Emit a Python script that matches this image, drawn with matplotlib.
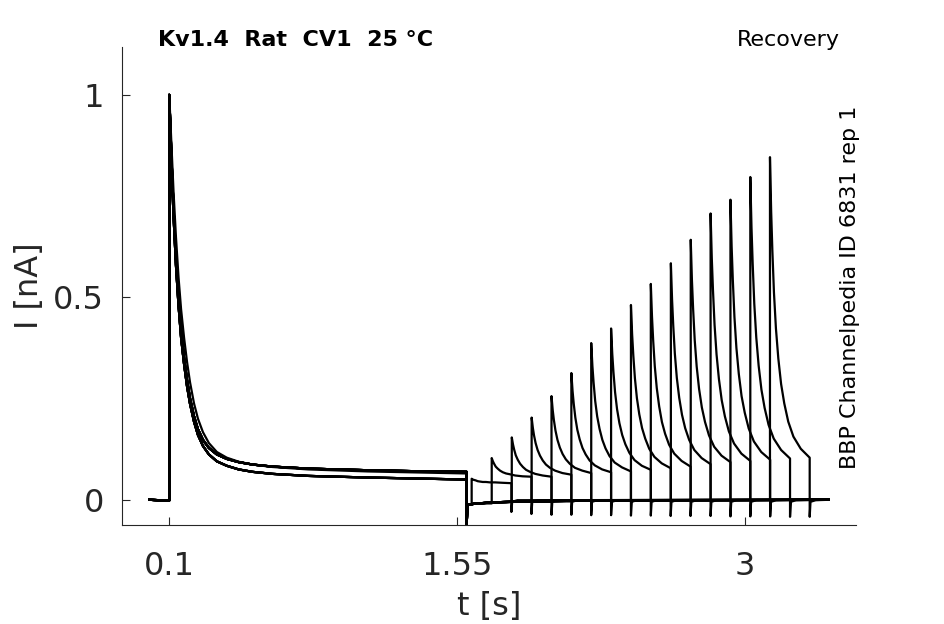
import matplotlib
matplotlib.use("Agg")
import matplotlib.pyplot as plt

# ---------------- data ----------------
# prepulse (shared part of every sweep), time in s, current in nA
pre_t = [0.0, 0.1, 0.1, 0.104, 0.112, 0.122, 0.134, 0.147, 0.16, 0.175, 0.19,
         0.205, 0.225, 0.245, 0.27, 0.3, 0.34, 0.39, 0.45, 0.52, 0.62, 0.8,
         1.1, 1.4, 1.598]
pre_I_upper = [0.0, -0.002, 1.0, 0.95, 0.84, 0.72, 0.60, 0.50, 0.42, 0.35, 0.295,
               0.25, 0.206, 0.174, 0.148, 0.128, 0.112, 0.101, 0.093, 0.087,
               0.082, 0.077, 0.073, 0.070, 0.069]
pre_I_lower = [0.0, -0.002, 0.99, 0.94, 0.82, 0.70, 0.58, 0.48, 0.40, 0.335, 0.28,
               0.237, 0.193, 0.16, 0.133, 0.112, 0.095, 0.084, 0.075, 0.069,
               0.064, 0.059, 0.055, 0.052, 0.050]
pre_I_slow = [0.0, -0.002, 1.0, 0.96, 0.87, 0.76, 0.65, 0.55, 0.47, 0.40, 0.34,
              0.29, 0.238, 0.20, 0.167, 0.14, 0.118, 0.104, 0.094, 0.087,
              0.081, 0.075, 0.070, 0.067, 0.065]
pre_variant = [0, 1, 0, 1, 0, 0, 1, 0, 1, 0, 2, 0, 1, 0, 1, 0]

# recovery interval baseline after the prepulse
rec_t = [1.598, 1.601, 1.604, 1.65, 1.75, 1.9, 2.2, 2.6]
rec_I = [-0.062, -0.02, -0.012, -0.009, -0.006, -0.004, -0.002, -0.001]

# test pulses
test_onsets = [1.623, 1.724, 1.825, 1.925, 2.025, 2.125, 2.225, 2.325,
               2.425, 2.525, 2.626, 2.726, 2.826, 2.926, 3.026, 3.125]
test_dt = [0.0, 0.006, 0.012, 0.02, 0.03, 0.042, 0.056, 0.072, 0.092, 0.118,
           0.155, 0.2]
test_I = [
    [0.052, 0.050, 0.049, 0.048, 0.046, 0.045, 0.044, 0.044, 0.043, 0.043, 0.042, 0.041],
    [0.103, 0.095, 0.089, 0.082, 0.077, 0.072, 0.068, 0.065, 0.063, 0.060, 0.058, 0.057],
    [0.154, 0.137, 0.124, 0.110, 0.099, 0.089, 0.081, 0.074, 0.069, 0.064, 0.060, 0.057],
    [0.203, 0.178, 0.159, 0.140, 0.123, 0.109, 0.097, 0.087, 0.079, 0.072, 0.066, 0.062],
    [0.256, 0.222, 0.197, 0.171, 0.148, 0.129, 0.113, 0.100, 0.089, 0.079, 0.072, 0.066],
    [0.313, 0.269, 0.237, 0.203, 0.173, 0.149, 0.128, 0.112, 0.097, 0.085, 0.075, 0.068],
    [0.387, 0.330, 0.289, 0.244, 0.206, 0.175, 0.148, 0.127, 0.108, 0.092, 0.080, 0.070],
    [0.423, 0.360, 0.315, 0.266, 0.224, 0.189, 0.160, 0.137, 0.116, 0.098, 0.084, 0.074],
    [0.481, 0.408, 0.356, 0.300, 0.251, 0.211, 0.177, 0.151, 0.126, 0.106, 0.090, 0.078],
    [0.533, 0.452, 0.393, 0.330, 0.276, 0.231, 0.192, 0.163, 0.136, 0.114, 0.096, 0.082],
    [0.584, 0.495, 0.430, 0.361, 0.301, 0.252, 0.210, 0.177, 0.148, 0.123, 0.103, 0.088],
    [0.642, 0.543, 0.472, 0.395, 0.329, 0.274, 0.228, 0.192, 0.159, 0.131, 0.109, 0.093],
    [0.707, 0.597, 0.518, 0.432, 0.359, 0.298, 0.246, 0.206, 0.169, 0.139, 0.114, 0.096],
    [0.741, 0.625, 0.542, 0.452, 0.375, 0.311, 0.256, 0.215, 0.176, 0.144, 0.118, 0.099],
    [0.797, 0.672, 0.582, 0.484, 0.401, 0.331, 0.272, 0.227, 0.185, 0.151, 0.123, 0.102],
    [0.846, 0.712, 0.616, 0.512, 0.423, 0.349, 0.286, 0.238, 0.193, 0.156, 0.126, 0.104],
]
tail_I = [-0.03, -0.035, -0.037, -0.037, -0.038, -0.038, -0.039, -0.039,
          -0.04, -0.04, -0.04, -0.041, -0.041, -0.041, -0.042, -0.042]
post_t_rel = [0.004, 0.03]
post_I = [-0.005, -0.001]
sweep_end = 3.42

x_ticks = [0.1, 1.55, 3]
x_ticklabels = ["0.1", "1.55", "3"]
y_ticks = [0, 0.5, 1]
y_ticklabels = ["0", "0.5", "1"]

title_left = "Kv1.4  Rat  CV1  25 \u00b0C"
title_right = "Recovery"
side_text = "BBP Channelpedia ID 6831 rep 1"

# ---------------- figure ----------------
fig = plt.figure(figsize=(9.45, 6.24), dpi=100)
ax = fig.add_axes([0.129, 0.159, 0.777, 0.766])

pre_sets = [pre_I_upper, pre_I_lower, pre_I_slow]
for k in range(len(test_onsets)):
    t = list(pre_t)
    I = list(pre_sets[pre_variant[k]])
    on = test_onsets[k]
    last = rec_I[0]
    for tt, ii in zip(rec_t, rec_I):
        if tt < on:
            t.append(tt)
            I.append(ii)
            last = ii
    t.append(on)
    I.append(last)
    for dt, ii in zip(test_dt, test_I[k]):
        t.append(on + dt)
        I.append(ii)
    end = on + test_dt[-1]
    t.append(end)
    I.append(tail_I[k])
    for dt, ii in zip(post_t_rel, post_I):
        t.append(end + dt)
        I.append(ii)
    t.append(sweep_end)
    I.append(0.0)
    ax.plot(t, I, color="black", lw=1.6, solid_joinstyle="round")

ax.set_xlim(-0.138, 3.559)
ax.set_ylim(-0.0617, 1.1185)
ax.set_xticks(x_ticks)
ax.set_xticklabels(x_ticklabels)
ax.set_yticks(y_ticks)
ax.set_yticklabels(y_ticklabels)

for s in ["top", "right"]:
    ax.spines[s].set_visible(False)
for s in ["left", "bottom"]:
    ax.spines[s].set_color("#262626")
    ax.spines[s].set_linewidth(0.8)

ax.tick_params(direction="in", length=6, width=0.8, colors="#262626",
               labelsize=23, labelcolor="#262626")
ax.tick_params(axis="x", pad=19)
ax.tick_params(axis="y", pad=13)

ax.set_xlabel("t [s]", fontsize=23, color="#262626", labelpad=6)
ax.set_ylabel("I [nA]", fontsize=23, color="#262626", labelpad=6)

fig.text(158 / 945, 1 - 40 / 624, title_left, fontsize=16, fontweight="bold",
         ha="left", va="center", color="black")
fig.text(840 / 945, 1 - 40 / 624, title_right, fontsize=16,
         ha="right", va="center", color="black")
fig.text(850 / 945, 1 - 287 / 624, side_text, fontsize=16, rotation=90,
         ha="center", va="center", color="black")

fig.savefig("out.png", dpi=100)
